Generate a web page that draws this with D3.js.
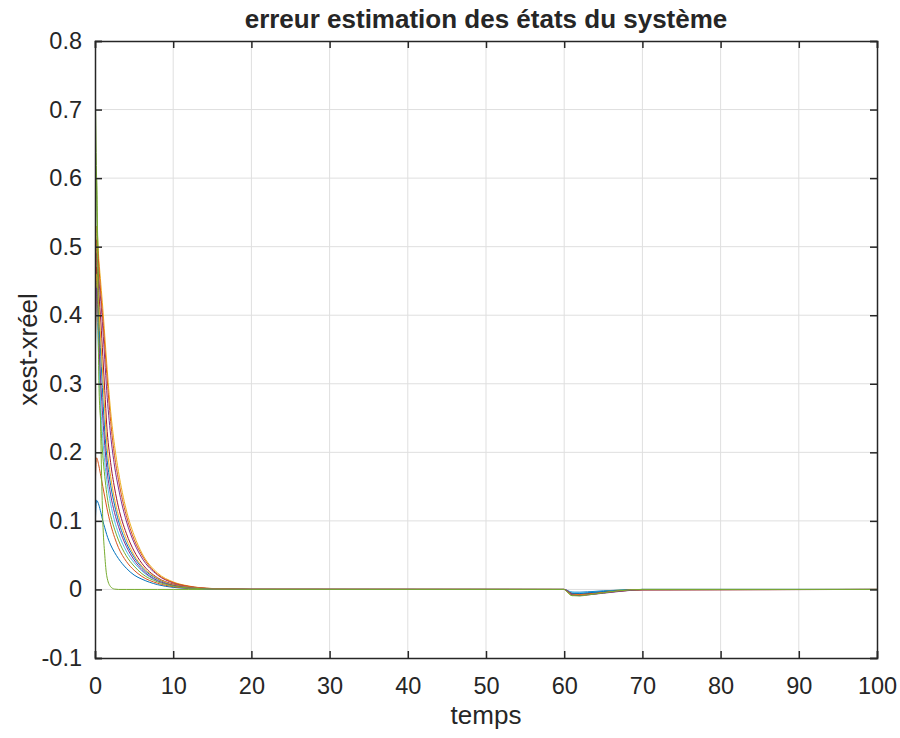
<!DOCTYPE html>
<html>
<head>
<meta charset="utf-8">
<script src="https://cdn.jsdelivr.net/npm/d3@7"></script>
<style>
  body { margin: 0; background: #fff; }
  text { font-family: "Liberation Sans", Arial, sans-serif; fill: #262626; }
</style>
</head>
<body>
<div id="chart"></div>
<script>
// Time samples shared by every series
const times = [0, 0.2, 0.5, 0.75, 1, 1.25, 1.5, 2, 2.5, 3, 4, 5, 6, 8, 10, 12, 15, 20,
               60, 60.5, 61, 62, 63, 65, 67, 70, 100];

// Estimation error of each state
const e1  = [0.082, 0.13, 0.123, 0.112, 0.1, 0.09, 0.08, 0.065, 0.054, 0.045, 0.031, 0.021, 0.015, 0.007, 0.003, 0.0014, 0.0004, 0.0001,
             0, -0.002, -0.004, -0.004, -0.0035, -0.002, -0.001, 0, 0];
const e2  = [0.141, 0.192, 0.18, 0.165, 0.15, 0.135, 0.12, 0.095, 0.076, 0.061, 0.041, 0.028, 0.019, 0.009, 0.004, 0.0018, 0.0005, 0.0001,
             0, -0.004, -0.008, -0.008, -0.007, -0.0045, -0.002, 0, 0];
const e3  = [0.22, 0.53, 0.48, 0.445, 0.41, 0.37, 0.33, 0.26, 0.21, 0.172, 0.116, 0.079, 0.053, 0.024, 0.011, 0.005, 0.0014, 0.0002,
             0, -0.003, -0.006, -0.007, -0.0065, -0.0045, -0.0025, -0.0005, 0];
const e4  = [0.29, 0.49, 0.45, 0.42, 0.38, 0.335, 0.29, 0.225, 0.18, 0.148, 0.1, 0.068, 0.046, 0.021, 0.0095, 0.0043, 0.0012, 0.0002,
             0, -0.003, -0.007, -0.008, -0.0075, -0.005, -0.0025, -0.0005, 0];
const e5  = [0.76, 0.6, 0.42, 0.22, 0.1, 0.05, 0.02, 0.004, 0.0005, 0, 0, 0, 0, 0, 0, 0, 0, 0,
             0, -0.005, -0.009, -0.008, -0.006, -0.003, -0.001, 0, 0];
const e6  = [0.45, 0.42, 0.33, 0.265, 0.22, 0.185, 0.16, 0.125, 0.1, 0.082, 0.056, 0.039, 0.027, 0.012, 0.0056, 0.0025, 0.0007, 0.0001,
             0, -0.002, -0.004, -0.005, -0.0045, -0.003, -0.0015, 0, 0];
const e7  = [0.36, 0.47, 0.43, 0.39, 0.34, 0.29, 0.24, 0.185, 0.148, 0.12, 0.082, 0.056, 0.038, 0.017, 0.0078, 0.0035, 0.001, 0.0001,
             0, -0.003, -0.006, -0.007, -0.0065, -0.0045, -0.002, -0.0003, 0];
const e8  = [0.36, 0.45, 0.39, 0.34, 0.28, 0.23, 0.195, 0.152, 0.123, 0.1, 0.068, 0.047, 0.032, 0.015, 0.0066, 0.003, 0.0008, 0.0001,
             0, -0.003, -0.006, -0.006, -0.005, -0.003, -0.0015, 0, 0];
const e9  = [0.25, 0.51, 0.47, 0.43, 0.395, 0.355, 0.315, 0.245, 0.195, 0.16, 0.108, 0.073, 0.05, 0.022, 0.01, 0.0046, 0.0013, 0.0002,
             0, -0.003, -0.007, -0.0075, -0.007, -0.0045, -0.002, -0.0003, 0];
const e10 = [0.25, 0.46, 0.41, 0.36, 0.31, 0.26, 0.215, 0.165, 0.132, 0.108, 0.074, 0.05, 0.034, 0.016, 0.007, 0.0032, 0.0009, 0.0001,
             0, -0.004, -0.008, -0.0085, -0.0075, -0.005, -0.0025, -0.0003, 0];
const e11 = [0.29, 0.44, 0.36, 0.3, 0.25, 0.21, 0.178, 0.138, 0.112, 0.092, 0.063, 0.043, 0.029, 0.013, 0.006, 0.0027, 0.0008, 0.0001,
             0, -0.003, -0.008, -0.009, -0.008, -0.0055, -0.003, -0.0005, 0];
const e12 = [0.33, 0.6, 0.3, 0.24, 0.195, 0.165, 0.14, 0.108, 0.088, 0.072, 0.049, 0.034, 0.023, 0.011, 0.005, 0.0022, 0.0006, 0.0001,
             0, -0.005, -0.009, -0.0095, -0.008, -0.005, -0.002, 0, 0];

const errors = [e1, e2, e3, e4, e5, e6, e7, e8, e9, e10, e11, e12];

// MATLAB default color order
const colors = ['#0072BD', '#D95319', '#EDB120', '#7E2F8E', '#77AC30', '#4DBEEE', '#A2142F'];

const xTicks = [0, 10, 20, 30, 40, 50, 60, 70, 80, 90, 100];
const yTicks = [-0.1, 0, 0.1, 0.2, 0.3, 0.4, 0.5, 0.6, 0.7, 0.8];

// Dimensions
const width = 900;
const height = 738;
const margin = { top: 41, right: 23, bottom: 80, left: 95 };
const innerW = width - margin.left - margin.right;
const innerH = height - margin.top - margin.bottom;

const svg = d3.select('#chart')
    .append('svg')
    .attr('width', width)
    .attr('height', height);

const g = svg.append('g')
    .attr('transform', `translate(${margin.left},${margin.top})`);

// Scales
const x = d3.scaleLinear().domain([0, 100]).range([0, innerW]);
const y = d3.scaleLinear().domain([-0.1, 0.8]).range([innerH, 0]);

// Grid
g.append('g').selectAll('line')
    .data(xTicks.slice(1, -1))
    .enter().append('line')
    .attr('x1', d => x(d)).attr('x2', d => x(d))
    .attr('y1', 0).attr('y2', innerH)
    .attr('stroke', '#dfdfdf').attr('stroke-width', 1);

g.append('g').selectAll('line')
    .data(yTicks.slice(1, -1))
    .enter().append('line')
    .attr('y1', d => y(d)).attr('y2', d => y(d))
    .attr('x1', 0).attr('x2', innerW)
    .attr('stroke', '#dfdfdf').attr('stroke-width', 1);

// Clip
g.append('clipPath').attr('id', 'clip')
    .append('rect').attr('width', innerW).attr('height', innerH);

const line = d3.line()
    .x((d, i) => x(times[i]))
    .y(d => y(d))
    .curve(d3.curveMonotoneX);

g.append('g').attr('clip-path', 'url(#clip)')
    .selectAll('path')
    .data(errors)
    .enter().append('path')
    .attr('d', line)
    .attr('fill', 'none')
    .attr('stroke', (d, i) => colors[i % colors.length])
    .attr('stroke-width', 1);

// Axes (ticks inside, box on all sides)
const tickLen = 7;

g.append('g')
    .attr('transform', `translate(0,${innerH})`)
    .call(d3.axisBottom(x).tickValues(xTicks).tickSize(-tickLen).tickPadding(19).tickFormat(d3.format('d')));
g.append('g')
    .call(d3.axisTop(x).tickValues(xTicks).tickSize(-tickLen).tickFormat(''));
g.append('g')
    .call(d3.axisLeft(y).tickValues(yTicks).tickSize(-tickLen).tickPadding(13)
        .tickFormat(d => d === 0 ? '0' : d3.format('.1f')(d).replace('−', '-')));
g.append('g')
    .attr('transform', `translate(${innerW},0)`)
    .call(d3.axisRight(y).tickValues(yTicks).tickSize(-tickLen).tickFormat(''));

g.selectAll('.domain').attr('stroke', '#262626').attr('stroke-width', 1.5);
g.selectAll('.tick line').attr('stroke', '#262626').attr('stroke-width', 1.5);
g.selectAll('.tick text')
    .style('font-family', '"Liberation Sans", Arial, sans-serif')
    .style('font-size', '23.5px')
    .attr('fill', '#262626');

// Title and labels
svg.append('text')
    .attr('x', margin.left + innerW / 2)
    .attr('y', 28)
    .attr('text-anchor', 'middle')
    .style('font-size', '26px')
    .style('font-weight', 'bold')
    .attr('fill', '#000')
    .text('erreur estimation des états du système');

svg.append('text')
    .attr('x', margin.left + innerW / 2)
    .attr('y', 724)
    .attr('text-anchor', 'middle')
    .style('font-size', '26px')
    .text('temps');

svg.append('text')
    .attr('transform', `translate(37,${margin.top + innerH / 2}) rotate(-90)`)
    .attr('text-anchor', 'middle')
    .style('font-size', '26px')
    .text('xest-xréel');
</script>
</body>
</html>
